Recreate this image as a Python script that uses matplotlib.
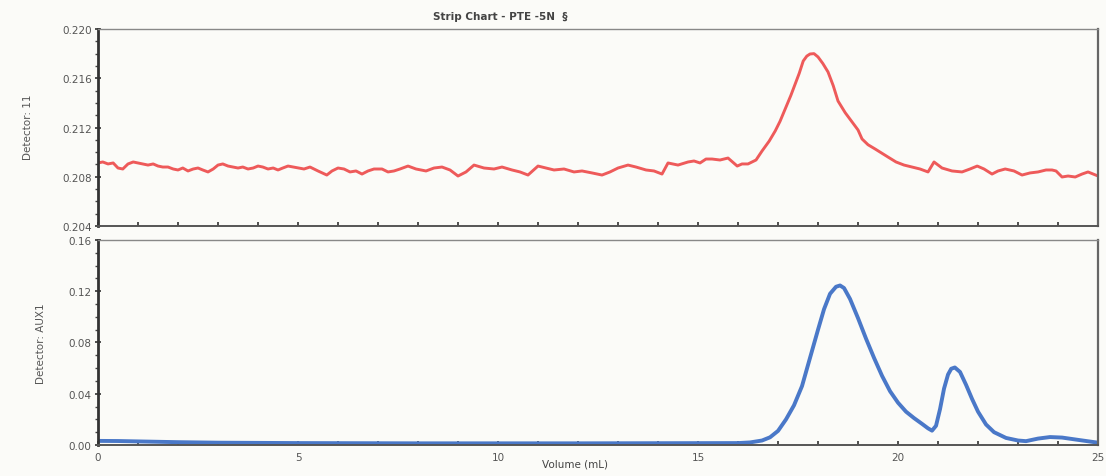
import matplotlib
matplotlib.use("Agg")
import matplotlib.pyplot as plt
from matplotlib.ticker import MultipleLocator, FormatStrFormatter

# Detector 11 trace (refractive index), volume in mL, read in four stretches
ri_volume_a = [0.00, 0.12, 0.25, 0.38, 0.50, 0.62, 0.75, 0.88, 1.00, 1.12, 1.25, 1.38,
               1.50, 1.62, 1.75, 1.88, 2.00, 2.12, 2.25, 2.38, 2.50, 2.62, 2.75, 2.88,
               3.00, 3.12, 3.25, 3.38, 3.50, 3.62, 3.75, 3.88, 4.00, 4.12, 4.25, 4.38,
               4.50, 4.62, 4.75, 4.88, 5.00]
ri_signal_a = [0.20912, 0.20920, 0.20904, 0.20912, 0.20871, 0.20863, 0.20904, 0.20920,
               0.20912, 0.20904, 0.20895, 0.20904, 0.20887, 0.20879, 0.20879, 0.20863,
               0.20855, 0.20871, 0.20847, 0.20863, 0.20871, 0.20855, 0.20839, 0.20863,
               0.20895, 0.20904, 0.20887, 0.20879, 0.20871, 0.20879, 0.20863, 0.20871,
               0.20887, 0.20879, 0.20863, 0.20871, 0.20855, 0.20871, 0.20887, 0.20879,
               0.20871]
ri_volume_b = [5.15, 5.30, 5.50, 5.72, 5.85, 6.00, 6.15, 6.30, 6.45, 6.60, 6.75, 6.90,
               7.10, 7.25, 7.40, 7.55, 7.75, 7.95, 8.20, 8.40, 8.60, 8.80,
               9.00, 9.20, 9.40, 9.65, 9.90, 10.10, 10.35, 10.55, 10.75,
               11.00, 11.20, 11.40, 11.65, 11.90, 12.10, 12.35, 12.60, 12.80,
               13.00, 13.25, 13.45, 13.70, 13.90, 14.10, 14.25, 14.50, 14.75, 14.90,
               15.05, 15.20, 15.35, 15.55, 15.75, 15.98]
ri_signal_b = [0.20863, 0.20879, 0.20847, 0.20814, 0.20847, 0.20871, 0.20863,
               0.20839, 0.20847, 0.20822, 0.20847, 0.20863, 0.20863, 0.20839, 0.20847,
               0.20863, 0.20887, 0.20863, 0.20847, 0.20871, 0.20879, 0.20855, 0.20806,
               0.20839, 0.20895, 0.20871, 0.20863, 0.20879, 0.20855, 0.20839, 0.20814,
               0.20887, 0.20871, 0.20855, 0.20863, 0.20839, 0.20847, 0.20831, 0.20814,
               0.20839, 0.20871, 0.20895, 0.20879, 0.20855, 0.20847, 0.20822, 0.20912,
               0.20895, 0.20920, 0.20928, 0.20912, 0.20944, 0.20944, 0.20936, 0.20952,
               0.20887]
ri_volume_c = [16.10, 16.25, 16.45, 16.60, 16.78, 16.93, 17.05, 17.20, 17.32, 17.43,
               17.53, 17.63, 17.72, 17.80, 17.90, 18.00, 18.12, 18.25, 18.38, 18.50,
               18.68, 18.85, 19.00, 19.10, 19.25, 19.43, 19.60, 19.75, 19.95]
ri_signal_c = [0.20904, 0.20904, 0.20936, 0.21009, 0.21090, 0.21172, 0.21250, 0.21367,
               0.21460, 0.21553, 0.21640, 0.21740, 0.21780, 0.21797, 0.21800, 0.21773,
               0.21720, 0.21651, 0.21540, 0.21415, 0.21320, 0.21245, 0.21180, 0.21107,
               0.21060, 0.21025, 0.20990, 0.20960, 0.20920]
ri_volume_d = [20.15, 20.35, 20.55, 20.75, 20.90, 21.10, 21.35, 21.60, 21.80, 21.98,
               22.15, 22.35, 22.50, 22.68, 22.90, 23.10, 23.30, 23.50, 23.70, 23.85,
               23.95, 24.10, 24.25, 24.43, 24.60, 24.75, 24.88, 25.00]
ri_signal_d = [0.20895, 0.20879, 0.20863, 0.20839, 0.20920, 0.20871, 0.20847, 0.20839,
               0.20863, 0.20887, 0.20863, 0.20822, 0.20847, 0.20863, 0.20847, 0.20814,
               0.20831, 0.20839, 0.20855, 0.20855, 0.20847, 0.20798, 0.20806, 0.20798,
               0.20822, 0.20839, 0.20822, 0.20806]

# AUX1 trace (UV), volume in mL
uv_volume = [0.0, 0.5, 1.0, 2.0, 3.0, 5.0, 8.0, 12.0, 16.0, 16.3, 16.6, 16.8, 17.0,
             17.2, 17.4, 17.6, 17.8, 18.0, 18.15, 18.3, 18.45, 18.55, 18.65, 18.8, 19.0,
             19.2, 19.4, 19.6, 19.8, 20.0, 20.2, 20.4, 20.6, 20.75, 20.85, 20.95, 21.05,
             21.15, 21.25, 21.33, 21.42, 21.55, 21.7, 21.85, 22.0, 22.2, 22.4, 22.7, 23.0,
             23.2, 23.5, 23.8, 24.1, 24.5, 25.0]
uv_signal = [0.0032, 0.0031, 0.0028, 0.0022, 0.0018, 0.0015, 0.0013, 0.0013, 0.0015,
             0.0020, 0.0035, 0.0060, 0.0110, 0.0200, 0.0310, 0.0460, 0.0680, 0.0900,
             0.1060, 0.1180, 0.1235, 0.1245, 0.1225, 0.1140, 0.0990, 0.0830, 0.0680,
             0.0540, 0.0420, 0.0330, 0.0260, 0.0210, 0.0165, 0.0130, 0.0112, 0.0150,
             0.0280, 0.0440, 0.0550, 0.0595, 0.0605, 0.0570, 0.0470, 0.0360, 0.0260,
             0.0160, 0.0100, 0.0055, 0.0035, 0.0030, 0.0050, 0.0062, 0.0058, 0.0040,
             0.0018]

ri_volume = ri_volume_a + ri_volume_b + ri_volume_c + ri_volume_d
ri_signal = ri_signal_a + ri_signal_b + ri_signal_c + ri_signal_d

bg = '#fbfbf8'
tick_color = '#555555'

fig = plt.figure(figsize=(11.06, 4.77), dpi=100, facecolor=bg)
ax1 = fig.add_axes([0.0886, 0.5241, 0.9042, 0.4130])
ax2 = fig.add_axes([0.0886, 0.0650, 0.9042, 0.4298])

ax1.plot(ri_volume, ri_signal, color='#ee5a5a', lw=2.1, solid_joinstyle='round')
ax2.plot(uv_volume, uv_signal, color='#4a78c8', lw=2.8, solid_joinstyle='round')

ax1.set_ylim(0.204, 0.220)
ax1.yaxis.set_major_locator(MultipleLocator(0.004))
ax1.yaxis.set_minor_locator(MultipleLocator(0.001))
ax1.yaxis.set_major_formatter(FormatStrFormatter('%.3f'))
ax2.set_ylim(0.0, 0.16)
ax2.yaxis.set_major_locator(MultipleLocator(0.04))
ax2.yaxis.set_minor_locator(MultipleLocator(0.01))
ax2.yaxis.set_major_formatter(FormatStrFormatter('%.2f'))

for ax in (ax1, ax2):
    ax.set_facecolor(bg)
    ax.set_xlim(0, 25)
    ax.xaxis.set_major_locator(MultipleLocator(5))
    ax.xaxis.set_minor_locator(MultipleLocator(1))
    ax.tick_params(axis='x', which='both', direction='in', length=3, width=1.2,
                   color='#333333', top=False)
    ax.tick_params(axis='y', which='major', direction='inout', length=5, width=1.2,
                   color='#333333', labelsize=7.5, labelcolor=tick_color, pad=2)
    ax.tick_params(axis='y', which='minor', direction='out', length=2.5, width=1,
                   color='#444444')
    ax.spines['left'].set_linewidth(2.0)
    ax.spines['left'].set_color('#333333')
    ax.spines['bottom'].set_linewidth(1.4)
    ax.spines['bottom'].set_color('#555555')
    ax.spines['top'].set_linewidth(1.0)
    ax.spines['top'].set_color('#888888')
    ax.spines['right'].set_linewidth(1.6)
    ax.spines['right'].set_color('#666666')

ax1.tick_params(axis='x', labelbottom=False)
ax2.tick_params(axis='x', which='major', labelsize=7.5, labelcolor=tick_color, pad=5)

fig.text(0.025, 0.733, 'Detector: 11', rotation=90, ha='center', va='center',
         fontsize=7.5, color='#555555')
fig.text(0.037, 0.28, 'Detector: AUX1', rotation=90, ha='center', va='center',
         fontsize=7.5, color='#555555')
fig.text(0.52, 0.015, 'Volume (mL)', ha='center', va='bottom', fontsize=7.5,
         color='#444444')
fig.text(0.452, 0.965, 'Strip Chart - PTE -5N  \u00a7', ha='center', va='center',
         fontsize=7.5, fontweight='bold', color='#444444')

fig.savefig('out.png', dpi=100, facecolor=bg)
